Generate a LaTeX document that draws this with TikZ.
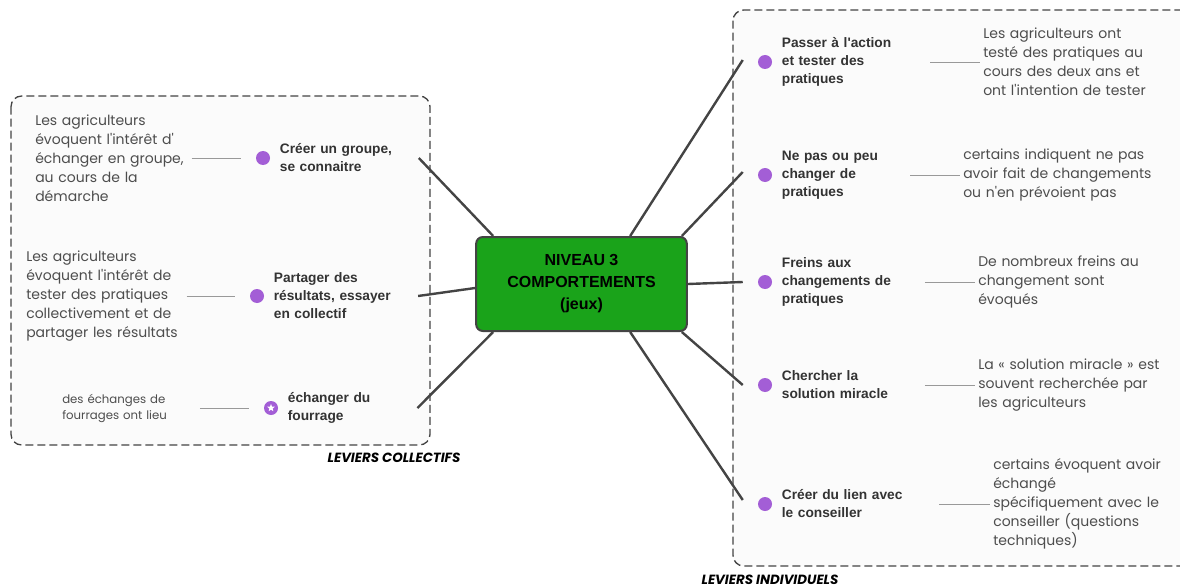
\documentclass[tikz,border=0pt]{standalone}
\usepackage{fontspec}
\setmainfont{Liberation Sans}
\newfontfamily\leaffont{Poppins}
\usetikzlibrary{positioning, shapes.geometric, calc}
\definecolor{mmgreen}{HTML}{1AA31A}
\definecolor{mmpurple}{HTML}{A35ED6}
\definecolor{mmdark}{HTML}{444444}
\definecolor{mmtext}{HTML}{333333}
\definecolor{mmleaf}{HTML}{4D4D4D}
\definecolor{mmbox}{HTML}{FBFBFB}

\begin{document}
\begin{tikzpicture}[x=0.75pt, y=-0.75pt,
  dot/.style={circle, fill=mmpurple, inner sep=0pt, minimum size=10.5pt},
  branch/.style={font=\fontsize{10.3}{13.5}\selectfont\bfseries, text=mmtext,
    align=left, inner sep=0pt, anchor=west, text width=#1},
  leaf/.style={font=\leaffont\fontsize{10.5}{14.25}\selectfont, text=mmleaf,
    align=left, inner sep=0pt, anchor=west, text width=#1},
  spoke/.style={draw=mmdark, line width=1.8pt},
  twig/.style={draw=gray!80, line width=0.6pt},
  group/.style={draw=mmdark, dash pattern=on 6pt off 3pt, line width=1pt,
    fill=mmbox, rounded corners=8pt},
  grouplabel/.style={font=\leaffont\fontsize{10}{12}\selectfont\bfseries\itshape},
  node distance=7pt,
]
  \useasboundingbox (0,0) rectangle (1180,588);

  % Groups
  \draw[group] (11,96) rectangle (430,445);
  \draw[group] (733,10) rectangle (1200,566);
  \node[grouplabel] (gl) at (394,458) {LEVIERS COLLECTIFS};
  \node[grouplabel] (gr) at (770,580) {LEVIERS INDIVIDUELS};

  % Centre
  \node[draw=mmdark, line width=1.5pt, fill=mmgreen, rounded corners=5pt,
    minimum width=158pt, minimum height=70.5pt, align=center,
    font=\fontsize{12}{16.5}\selectfont\bfseries] (c) at (581.5,284)
    {NIVEAU 3\\COMPORTEMENTS\\(jeux)};

  % Leviers collectifs
  \node[dot] (b1) at (263,158) {};
  \node[branch=104pt, right=of b1] (t1) {Créer un groupe,\\se connaitre};
  \node[dot] (b2) at (257,296) {};
  \node[branch=108pt, right=of b2] (t2) {Partager des\\résultats, essayer\\en collectif};
  \node[dot] (b3) at (271,408) {};
  \node[star, star points=5, star point ratio=2.3, fill=white, inner sep=0pt,
    minimum size=6pt] (s3) at (b3) {};
  \node[branch=97pt, right=of b3] (t3) {échanger du\\fourrage};

  \node[leaf=117pt] (lf1) at (35,158) {Les agriculteurs\\évoquent l\textquotesingle intérêt d\textquotesingle\\échanger en groupe,\\au cours de la\\démarche};
  \node[leaf=120pt] (lf2) at (26,296) {Les agriculteurs\\évoquent l\textquotesingle intérêt de\\tester des pratiques\\collectivement et de\\partager les résultats};
  \node[leaf=103pt, font=\leaffont\fontsize{8.8}{12}\selectfont] (lf3) at (62,408) {des échanges de\\fourrages ont lieu};

  \draw[twig, shorten >=11.25pt] (lf1.east) -- (b1.west);
  \draw[twig, shorten >=11.25pt] (lf2.east) -- (b2.west);
  \draw[twig, shorten >=11.25pt] (lf3.east) -- (b3.west);

  \draw[spoke] ($(c.north west)+(18,0)$) -- (t1.east);
  \draw[spoke] ($(c.west)+(0,4)$) -- (t2.east);
  \draw[spoke] ($(c.south west)+(18,0)$) -- (t3.east);

  % Leviers individuels
  \node[dot] (rb1) at (765,62) {};
  \node[branch=111pt, right=of rb1] (r1) {Passer à l\textquotesingle action\\et tester des\\pratiques};
  \node[dot] (rb2) at (765,175) {};
  \node[branch=96pt, right=of rb2] (r2) {Ne pas ou peu\\changer de\\pratiques};
  \node[dot] (rb3) at (765,282) {};
  \node[branch=107pt, right=of rb3] (r3) {Freins aux\\changements de\\pratiques};
  \node[dot] (rb4) at (765,385) {};
  \node[branch=107pt, right=of rb4] (r4) {Chercher la\\solution miracle};
  \node[dot] (rb5) at (765,504) {};
  \node[branch=118pt, right=of rb5] (r5) {Créer du lien avec\\le conseiller};

  \node[leaf=180pt] (rl1) at (983,62) {Les agriculteurs ont\\testé des pratiques au\\cours des deux ans et\\ont l\textquotesingle intention de tester};
  \node[leaf=180pt] (rl2) at (963,175) {certains indiquent ne pas\\avoir fait de changements\\ou n\textquotesingle en prévoient pas};
  \node[leaf=180pt] (rl3) at (978,282) {De nombreux freins au\\changement sont\\évoqués};
  \node[leaf=180pt] (rl4) at (978,385) {La « solution miracle » est\\souvent recherchée par\\les agriculteurs};
  \node[leaf=180pt] (rl5) at (993,504) {certains évoquent avoir\\échangé\\spécifiquement avec le\\conseiller (questions\\techniques)};

  \draw[twig, shorten >=2.25pt] (r1.east) -- (rl1.west);
  \draw[twig, shorten >=2.25pt] (r2.east) -- (rl2.west);
  \draw[twig, shorten >=2.25pt] (r3.east) -- (rl3.west);
  \draw[twig, shorten >=2.25pt] (r4.east) -- (rl4.west);
  \draw[twig, shorten >=2.25pt] (r5.east) -- (rl5.west);

  \draw[spoke] ($(c.north west)+(155,0)$) -- ($(rb1.west)+(-15,-2)$);
  \draw[spoke] ($(c.north east)+(-6,0)$) -- ($(rb2.west)+(-15,-3)$);
  \draw[spoke] (c.east) -- ($(rb3.west)+(-15,0)$);
  \draw[spoke] ($(c.south east)+(-6,0)$) -- ($(rb4.west)+(-15,0)$);
  \draw[spoke] ($(c.south west)+(155,0)$) -- ($(rb5.west)+(-15,-4)$);
\end{tikzpicture}
\end{document}
